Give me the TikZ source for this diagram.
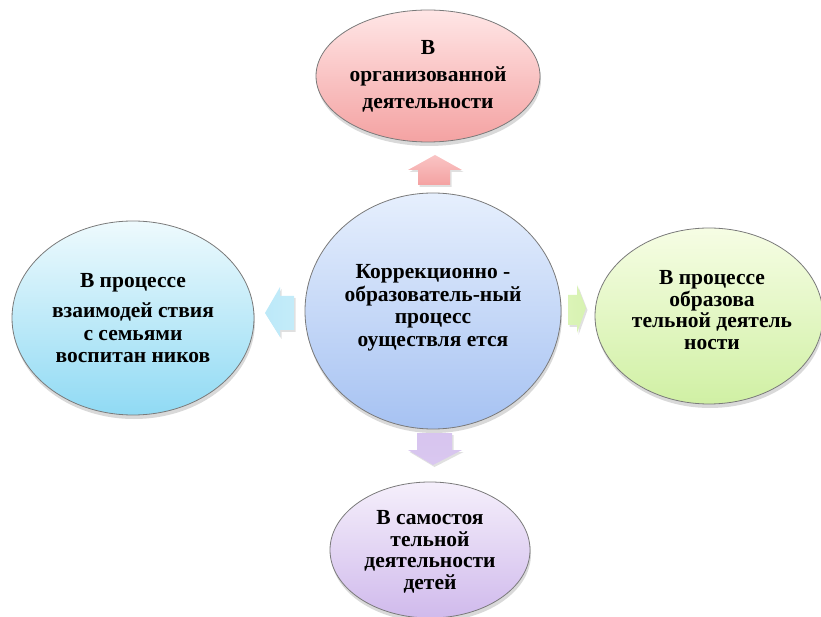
\documentclass[tikz,border=0pt]{standalone}
\usepackage{fontspec}
\setmainfont{Liberation Serif}
\usetikzlibrary{shapes.geometric,shadows}
\definecolor{pinkTop}{HTML}{FFE6E6}
\definecolor{pinkBot}{HTML}{F4A2A2}
\definecolor{blueTop}{HTML}{E6EFFD}
\definecolor{blueBot}{HTML}{A6C2F2}
\definecolor{cyanTop}{HTML}{EEFAFD}
\definecolor{cyanBot}{HTML}{90DAF4}
\definecolor{greenTop}{HTML}{F6FDE4}
\definecolor{greenBot}{HTML}{D0F0A4}
\definecolor{lilacTop}{HTML}{F5EFFB}
\definecolor{lilacBot}{HTML}{D0BAEC}
\definecolor{edge}{HTML}{7A7A7A}
\tikzset{
  blob/.style={ellipse, draw=edge, line width=0.8pt, inner sep=0pt,
    drop shadow={shadow xshift=1pt, shadow yshift=-4pt, opacity=0.25, fill=black!60}},
  blobtext/.style={align=center, font=\fontsize{21.5}{#1}\selectfont\bfseries},
  blockarrow/.style={draw=none,
    drop shadow={shadow xshift=1.5pt, shadow yshift=-2pt, opacity=0.2, fill=black!60}},
}
\begin{document}
\begin{tikzpicture}[x=1pt,y=1pt]
\useasboundingbox (0,0) rectangle (821,616);
% ellipses
\node[blob, minimum width=224, minimum height=132, top color=pinkTop, bottom color=pinkBot]
  (top) at (428,540) {};
\node[blobtext=27] (toptext) at (428,540)
  {В\\ организованной\\ деятельности};
\node[blob, minimum width=256, minimum height=236, top color=blueTop, bottom color=blueBot]
  (center) at (433,305) {};
\node[blobtext=22.5] (centertext) at (433,308)
  {Коррекционно -\\ образователь-ный\\ процесс\\ оуществля ется};
\node[blob, minimum width=242, minimum height=194, top color=cyanTop, bottom color=cyanBot]
  (left) at (133,298) {};
\node[blobtext=22.5] (lefttext) at (133,298)
  {В процессе\\[8pt] взаимодей ствия\\ с семьями\\ воспитан ников};
\node[blob, minimum width=228, minimum height=176, top color=greenTop, bottom color=greenBot]
  (right) at (709,300) {};
\node[blobtext=21.5] (righttext) at (712,306)
  {В процессе\\ образова\\ тельной деятель\\ ности};
\node[blob, minimum width=200, minimum height=136, top color=lilacTop, bottom color=lilacBot]
  (bottom) at (430,66) {};
\node[blobtext=21.5] (bottomtext) at (430,64)
  {В самостоя\\ тельной\\ деятельности\\ детей};
% block arrows
\path[blockarrow, top color=pinkTop!50!pinkBot, bottom color=pinkBot]
  (435,461) -- (462,446) -- (450,446) -- (450,431) -- (418,431) -- (418,446) -- (408,446) -- cycle;
\path[blockarrow, top color=lilacBot!85, bottom color=lilacBot!75!lilacTop]
  (417,183) -- (452,183) -- (452,166) -- (462,166) -- (433,151) -- (408,166) -- (417,166) -- cycle;
\path[blockarrow, left color=cyanBot!60, right color=cyanBot!45!cyanTop]
  (265,303) -- (280,329) -- (280,320) -- (294,320) -- (294,286) -- (280,286) -- (280,279) -- cycle;
\path[blockarrow, left color=greenBot!70!greenTop, right color=greenBot!85]
  (568,321) -- (577,321) -- (577,331) -- (586,308) -- (577,283) -- (577,291) -- (568,291) -- cycle;
\end{tikzpicture}
\end{document}
